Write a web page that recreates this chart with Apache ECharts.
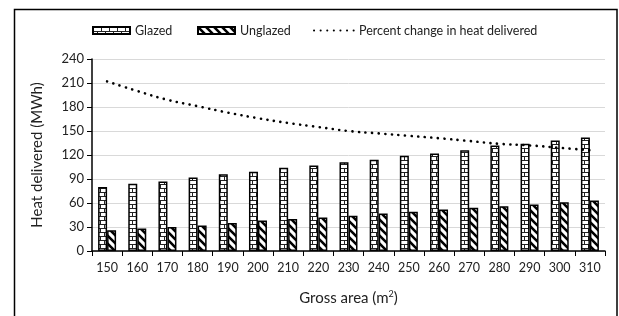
<!DOCTYPE html>
<html>
<head>
<meta charset="utf-8">
<script src="https://cdn.jsdelivr.net/npm/echarts@6/dist/echarts.min.js"></script>
<style>
html,body{margin:0;padding:0;background:#fff;}
#chart{width:619px;height:316px;}
</style>
</head>
<body>
<div id="chart"></div>
<script>
const categories = ['150','160','170','180','190','200','210','220','230','240','250','260','270','280','290','300','310'];
const glazed = [80,84,87,92,96,99,104,107,111,114,119,122,126,132,134,138,142];
const unglazed = [26,28,30,32,35,38,40,42,44,47,49,52,54,56,58,61,63];
const percentChange = [212,200,189,181,173,166,160,155,150,147,144,141,137.5,134,132,129,126];

function brickPattern(){
  const c = document.createElement('canvas');
  c.width = 8; c.height = 8;
  const g = c.getContext('2d');
  g.fillStyle = '#fff'; g.fillRect(0,0,8,8);
  g.fillStyle = '#222';
  g.fillRect(0,0,8,1);
  g.fillRect(0,4,8,1);
  g.fillRect(0,0,1,4);
  g.fillRect(4,4,1,4);
  return c;
}
function diagPattern(){
  const c = document.createElement('canvas');
  c.width = 8; c.height = 8;
  const g = c.getContext('2d');
  g.fillStyle = '#fff'; g.fillRect(0,0,8,8);
  g.strokeStyle = '#000';
  g.lineWidth = 2.6;
  g.beginPath();
  for (let k=-8;k<=8;k+=8){
    g.moveTo(k-2,-2); g.lineTo(k+10,10);
  }
  g.stroke();
  return c;
}

const chart = echarts.init(document.getElementById('chart'), null, {renderer:'canvas'});
const font = 'Lato, "Liberation Sans", sans-serif';
const legendText = {fontFamily:font,fontSize:12.5,color:'#222'};
chart.setOption({
  animation:false,
  textStyle:{fontFamily:font},
  graphic:[{type:'rect', shape:{x:14.5,y:9.5,width:602.5,height:330}, style:{fill:'none',stroke:'#000',lineWidth:1.5}, z:-1}],
  legend:[
    {top:24, left:92, padding:0, itemWidth:37, itemHeight:7, itemGap:4, textStyle:legendText,
     data:[{name:'Glazed', icon:'rect'}]},
    {top:24, left:197, padding:0, itemWidth:37, itemHeight:7, itemGap:4, textStyle:legendText,
     data:[{name:'Unglazed', icon:'rect'}]},
    {top:24, left:313, padding:0, itemWidth:40, itemHeight:7, itemGap:4, textStyle:legendText,
     data:[{name:'Percent change in heat delivered', itemStyle:{opacity:0}}]}
  ],
  grid:{left:92,right:14,top:59,bottom:65},
  xAxis:{
    type:'category', data:categories,
    axisLine:{lineStyle:{color:'#000',width:1.5}},
    axisTick:{show:true,length:5,lineStyle:{color:'#000'}},
    axisLabel:{fontFamily:font,fontSize:12.5,color:'#222',margin:10},
    name:'Gross area (m{sup|2})', nameLocation:'middle', nameGap:39,
    nameTextStyle:{fontFamily:font,fontSize:15,color:'#222',rich:{sup:{fontFamily:font,fontSize:9,color:'#222',verticalAlign:'top',padding:[0,0,8,0]}}}
  },
  yAxis:{
    type:'value', min:0, max:240, interval:30,
    axisLine:{show:true,lineStyle:{color:'#000',width:1.5}},
    axisTick:{show:true,length:5,lineStyle:{color:'#000'}},
    axisLabel:{fontFamily:font,fontSize:13,color:'#222',margin:8},
    splitLine:{lineStyle:{color:'#d9d9d9',width:1}},
    name:'Heat delivered (MWh)', nameLocation:'middle', nameGap:47, nameRotate:90,
    nameTextStyle:{fontFamily:font,fontSize:15,color:'#222'}
  },
  series:[
    {name:'Glazed', type:'bar', data:glazed, barWidth:9, barGap:'0%',
     itemStyle:{color:{image:brickPattern(),repeat:'repeat'},borderColor:'#000',borderWidth:1.5}},
    {name:'Unglazed', type:'bar', data:unglazed, barWidth:9, barGap:'0%',
     itemStyle:{color:{image:diagPattern(),repeat:'repeat'},borderColor:'#000',borderWidth:1.5}},
    {name:'Percent change in heat delivered', type:'line', data:percentChange, smooth:true,
     symbol:'none', z:5,
     lineStyle:{color:'#000',width:2.6,type:[0.1,6.5],cap:'round'},
     itemStyle:{color:'#000'}}
  ]
});
</script>
</body>
</html>
